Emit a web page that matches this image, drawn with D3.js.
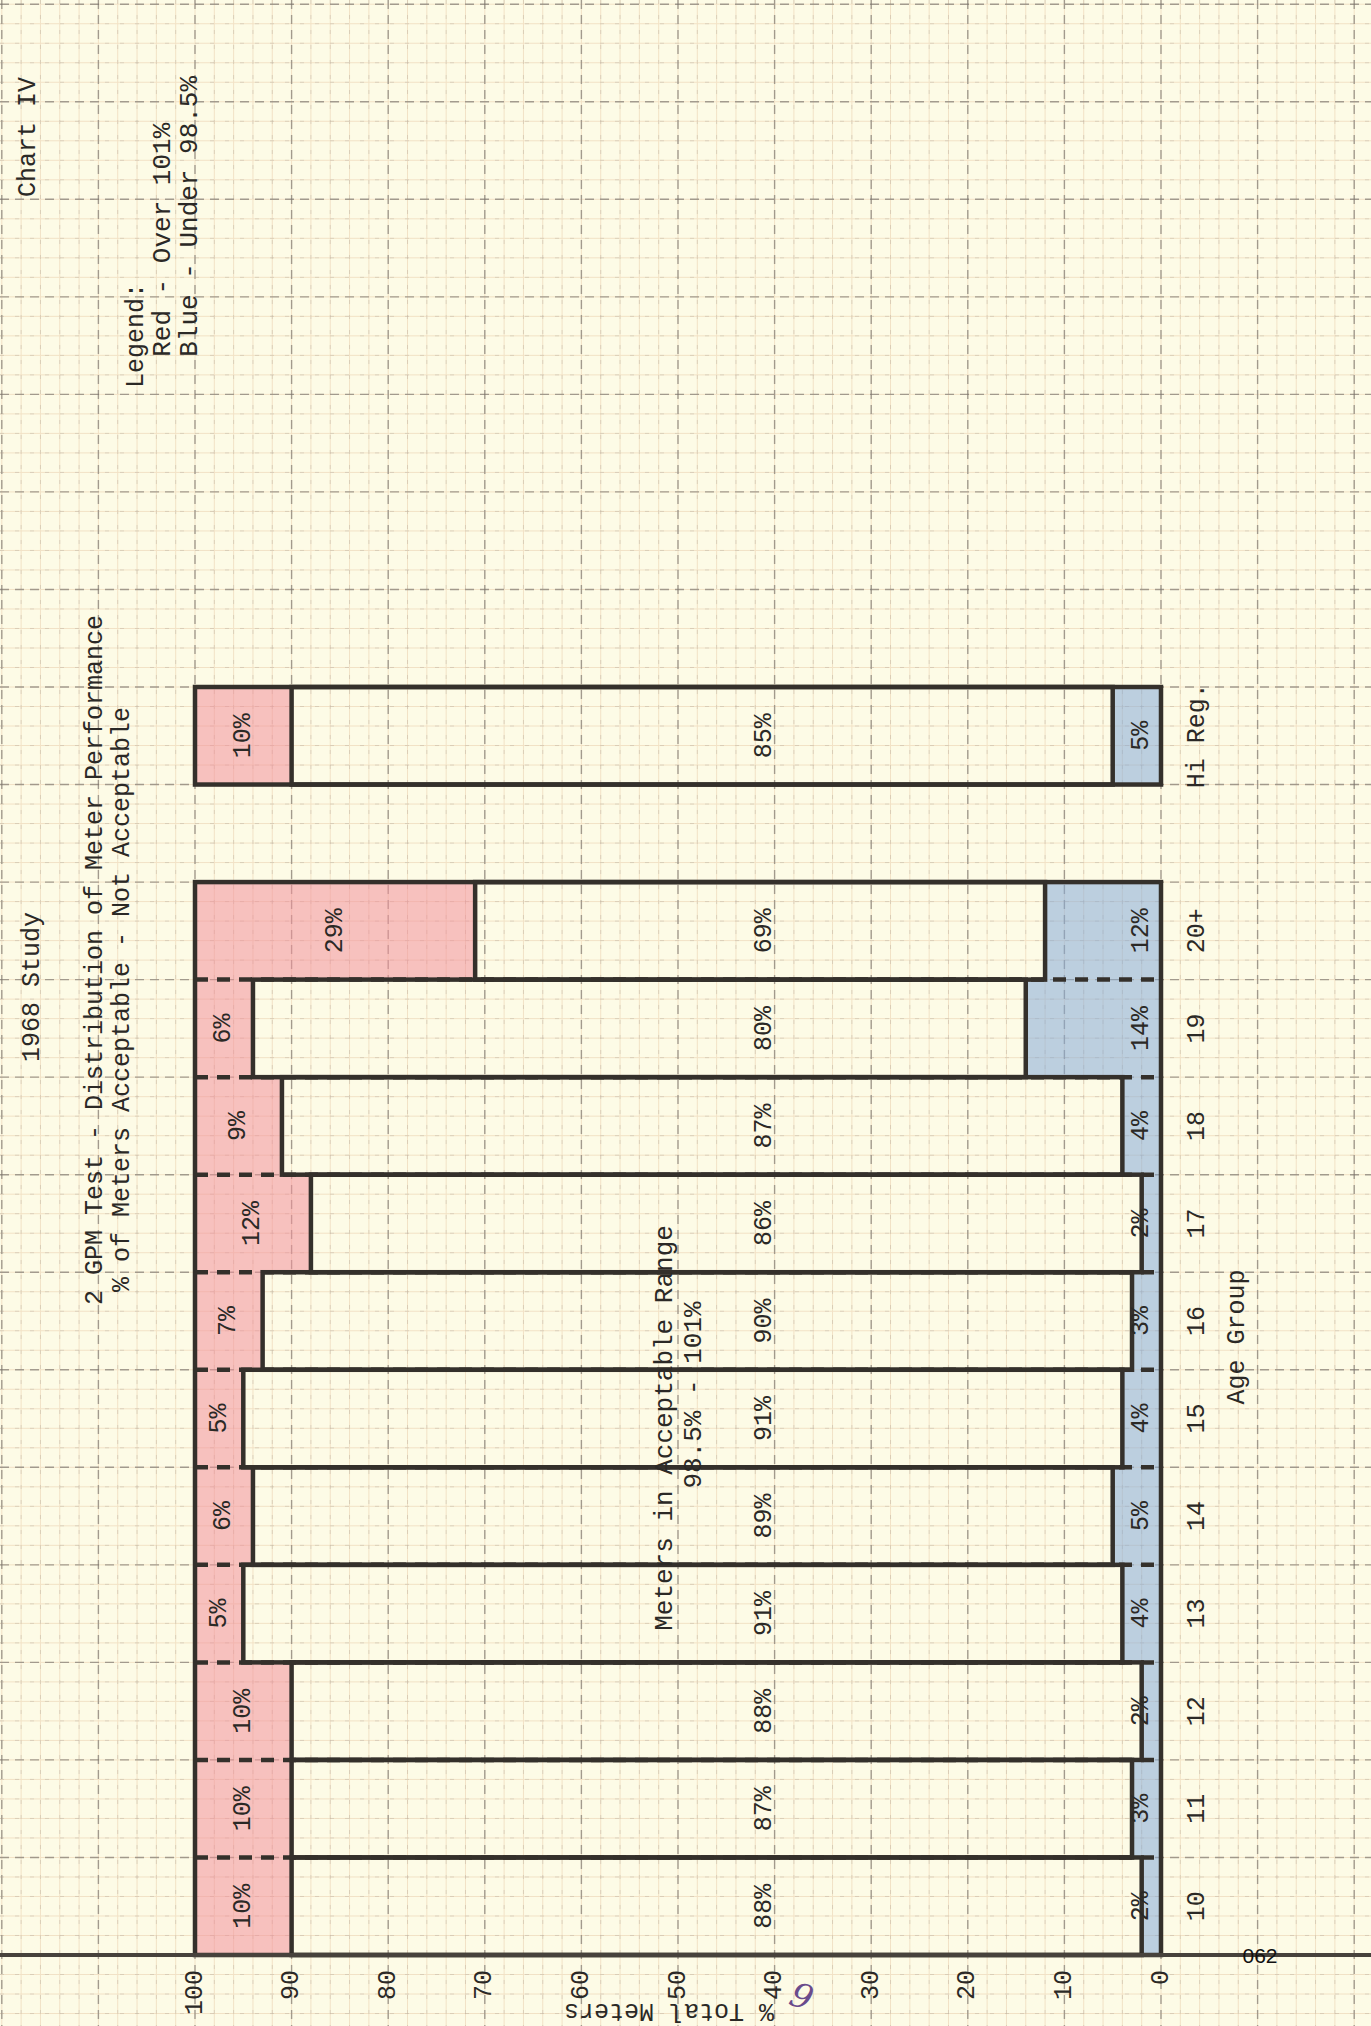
<!DOCTYPE html>
<html>
<head>
<meta charset="utf-8">
<script src="https://cdn.jsdelivr.net/npm/d3@7"></script>
<style>
  html, body { margin: 0; padding: 0; background: #fdfbe6; }
  svg { display: block; }
</style>
</head>
<body>
<div id="chart"></div>
<script>
// chart values
const ageGroups = ['10', '11', '12', '13', '14', '15', '16', '17', '18', '19', '20+', 'Hi Reg.'];
const overPct = [10, 10, 10, 5, 6, 5, 7, 12, 9, 6, 29, 10];      // red - over 101%
const acceptPct = [88, 87, 88, 91, 89, 91, 90, 86, 87, 80, 69, 85]; // 98.5% - 101%
const underPct = [2, 3, 2, 4, 5, 4, 3, 2, 4, 14, 12, 5];          // blue - under 98.5%
const valueTicks = [100, 90, 80, 70, 60, 50, 40, 30, 20, 10, 0];
const slots = ['10', '11', '12', '13', '14', '15', '16', '17', '18', '19', '20+', 'gap', 'Hi Reg.'];

const W = 1371, H = 2026;
const mono = "'Liberation Mono', 'DejaVu Sans Mono', monospace";
const ink = '#2b2926';

const svg = d3.select('#chart').append('svg')
  .attr('width', W)
  .attr('height', H);

svg.append('rect').attr('width', W).attr('height', H).attr('fill', '#fdfbe6');

// value runs right-to-left, categories run bottom-to-top (sheet is turned sideways)
const x = d3.scaleLinear().domain([0, 100]).range([1161, 195]);
const y = d3.scaleBand().domain(slots).range([1955, 687]);
const bw = y.bandwidth();

const data = ageGroups.map((g, i) => ({
  group: g, over: overPct[i], accept: acceptPct[i], under: underPct[i]
}));

// ---- graph paper
const grid = svg.append('g').attr('class', 'grid');
const vVals = d3.range(-20, 122, 2);
const hIdx = d3.range(-3, 101);
const isMajV = d => d % 10 === 0;
const isMajH = d => d % 5 === 0;

grid.selectAll('.vminor').data(vVals).join('line')
  .attr('x1', d => x(d)).attr('x2', d => x(d))
  .attr('y1', 0).attr('y2', H)
  .attr('stroke', '#f2e2c6').attr('stroke-width', 1);
grid.selectAll('.hminor').data(hIdx).join('line')
  .attr('x1', 0).attr('x2', W)
  .attr('y1', d => 1955 - d * bw / 5).attr('y2', d => 1955 - d * bw / 5)
  .attr('stroke', '#f2e2c6').attr('stroke-width', 1);

grid.selectAll('.vdash').data(vVals).join('line')
  .attr('x1', d => x(d)).attr('x2', d => x(d))
  .attr('y1', 0).attr('y2', H)
  .attr('stroke', d => isMajV(d) ? '#76726b' : '#a39d92')
  .attr('stroke-opacity', d => isMajV(d) ? 0.65 : 0.3)
  .attr('stroke-width', d => isMajV(d) ? 1.4 : 1)
  .attr('stroke-dasharray', d => isMajV(d) ? '9,6' : '4,11');
grid.selectAll('.hdash').data(hIdx).join('line')
  .attr('x1', 0).attr('x2', W)
  .attr('y1', d => 1955 - d * bw / 5).attr('y2', d => 1955 - d * bw / 5)
  .attr('stroke', d => isMajH(d) ? '#76726b' : '#a39d92')
  .attr('stroke-opacity', d => isMajH(d) ? 0.65 : 0.3)
  .attr('stroke-width', d => isMajH(d) ? 1.4 : 1)
  .attr('stroke-dasharray', d => isMajH(d) ? '9,6' : '4,11');

// ---- crayon fills
const fills = svg.append('g').attr('class', 'fills');
fills.selectAll('.red').data(data).join('rect')
  .attr('x', x(100))
  .attr('y', d => y(d.group))
  .attr('width', d => x(100 - d.over) - x(100))
  .attr('height', bw)
  .attr('fill', '#f2929c').attr('fill-opacity', 0.55);
fills.selectAll('.blue').data(data).join('rect')
  .attr('x', d => x(d.under))
  .attr('y', d => y(d.group))
  .attr('width', d => x(0) - x(d.under))
  .attr('height', bw)
  .attr('fill', '#86acd8').attr('fill-opacity', 0.55);

// ---- bar outlines
const lines = svg.append('g').attr('class', 'outlines')
  .attr('fill', 'none').attr('stroke', '#34302b');

const mainGroups = ageGroups.slice(0, 11);
lines.selectAll('.sep').data(mainGroups.slice(0, -1)).join('line')
  .attr('x1', x(100)).attr('x2', x(0))
  .attr('y1', d => y(d)).attr('y2', d => y(d))
  .attr('stroke-width', 4.5)
  .attr('stroke-dasharray', '13,9');

lines.selectAll('.mid').data(data).join('rect')
  .attr('x', d => x(100 - d.over))
  .attr('y', d => y(d.group))
  .attr('width', d => x(d.under) - x(100 - d.over))
  .attr('height', bw)
  .attr('stroke-width', 4.5);

lines.append('rect')
  .attr('x', x(100)).attr('y', y('20+'))
  .attr('width', x(0) - x(100))
  .attr('height', y('10') + bw - y('20+'))
  .attr('stroke-width', 4.5);
lines.append('rect')
  .attr('x', x(100)).attr('y', y('Hi Reg.'))
  .attr('width', x(0) - x(100)).attr('height', bw)
  .attr('stroke-width', 4.5);

// base line runs across the sheet
lines.append('line')
  .attr('x1', 0).attr('x2', W)
  .attr('y1', y('10') + bw).attr('y2', y('10') + bw)
  .attr('stroke', '#47423c').attr('stroke-width', 4);

// ---- sideways typewriter text
function vtext(g, px, py, str, anchor, size) {
  return g.append('text')
    .attr('transform', `translate(${px},${py}) rotate(-90)`)
    .attr('text-anchor', anchor)
    .attr('dominant-baseline', 'central')
    .attr('font-family', mono)
    .attr('font-size', size)
    .attr('fill', ink)
    .style('white-space', 'pre')
    .text(str);
}

const labels = svg.append('g').attr('class', 'labels');
data.forEach(d => {
  const cy = y(d.group) + bw / 2;
  vtext(labels, (x(100) + x(100 - d.over)) / 2, cy, d.over + '%', 'middle', 25);
  vtext(labels, x(41), cy, d.accept + '%', 'middle', 25);
  vtext(labels, x(2), cy, d.under + '%', 'middle', 25);
  vtext(labels, 1197, cy, d.group, 'middle', 25);
});

valueTicks.forEach(v => vtext(labels, x(v), 1970, String(v), 'end', 25));

vtext(labels, 1237, 1337, 'Age Group', 'middle', 25);
vtext(labels, 665, 1428, 'Meters in Acceptable Range', 'middle', 26);
vtext(labels, 694, 1395, '98.5% - 101%', 'middle', 26);

// title block
vtext(labels, 28, 197, 'Chart IV', 'start', 25);
vtext(labels, 32, 1062, '1968 Study', 'start', 25);
vtext(labels, 95, 1305, '2 GPM Test - Distribution of Meter Performance', 'start', 25);
vtext(labels, 122, 1292, '% of Meters Acceptable - Not Acceptable', 'start', 25);

// legend
vtext(labels, 136, 388, 'Legend:', 'start', 25);
vtext(labels, 163, 388, '  Red - Over 101%', 'start', 26);
vtext(labels, 190, 388, '  Blue - Under 98.5%', 'start', 26);

// upside-down axis title at the page edge, and the page stamp
labels.append('text')
  .attr('transform', 'translate(669,2004) rotate(180)')
  .attr('text-anchor', 'middle')
  .attr('font-family', mono).attr('font-size', 25).attr('fill', ink)
  .text('% Total Meters');
labels.append('text')
  .attr('transform', 'translate(806,1984) rotate(200)')
  .attr('text-anchor', 'middle')
  .attr('font-family', "'DejaVu Serif', serif").attr('font-style', 'italic')
  .attr('font-size', 34).attr('fill', '#6a4b8c')
  .text('6');
labels.append('text')
  .attr('x', 1260).attr('y', 1963)
  .attr('text-anchor', 'middle')
  .attr('font-family', "'Liberation Sans', Arial, sans-serif")
  .attr('font-size', 21).attr('fill', '#111')
  .text('062');
</script>
</body>
</html>
